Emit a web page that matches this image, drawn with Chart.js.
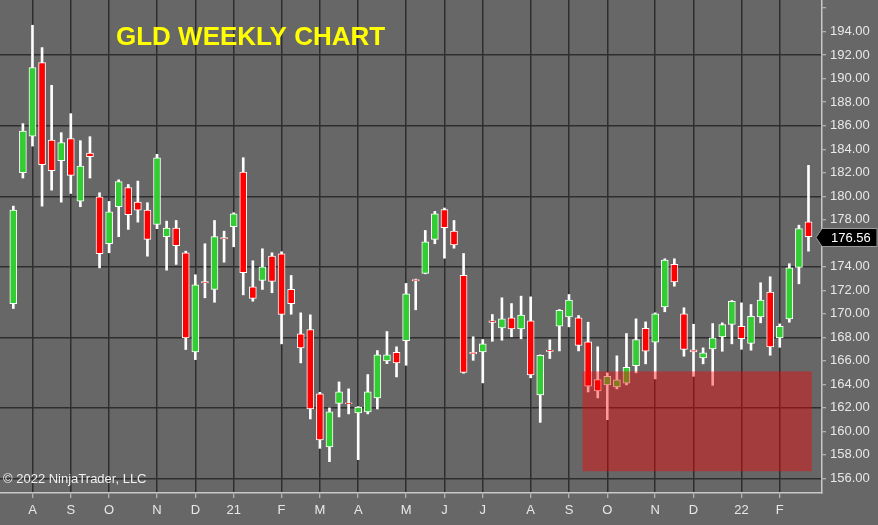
<!doctype html>
<html>
<head>
<meta charset="utf-8">
<title>GLD Weekly Chart</title>
<script src="https://cdn.jsdelivr.net/npm/chart.js@4.4.1/dist/chart.umd.min.js"></script>
<style>
  body { margin: 0; background: #676767; }
  #wrap { width: 878px; height: 525px; }
</style>
</head>
<body>
<div id="wrap"><canvas id="gld" width="878" height="525"></canvas></div>
<script>
// weekly bars, late Jul 2020 -> Feb 2022
const opens  = [170.87,182.0,185.12,191.38,184.78,183.03,184.9,179.59,183.68,179.96,
                175.96,179.11,180.73,179.5,178.82,177.6,176.56,177.29,175.19,166.76,
                172.74,172.07,176.48,177.41,182.06,172.3,172.83,174.9,175.11,172.09,
                168.29,168.66,163.18,158.67,162.38,162.43,161.56,161.65,162.84,165.99,
                166.73,167.72,172.92,173.43,176.33,178.86,177.03,173.28,166.72,166.76,
                169.39,168.8,169.66,168.72,169.4,163.1,166.92,168.94,169.74,169.66,
                167.61,164.4,163.95,163.78,164.09,165.59,168.77,167.58,170.59,174.2,
                170.0,166.93,166.25,167.02,168.04,169.09,168.94,167.47,169.74,171.84,
                167.95,169.57,173.94,177.83];
const highs  = [179.16,186.18,194.55,192.65,189.44,185.41,187.03,184.73,185.07,180.3,
                179.56,181.4,181.0,181.29,179.45,183.57,177.88,177.94,175.33,173.32,
                175.96,177.94,177.03,178.6,183.28,174.51,175.53,175.19,175.28,173.26,
                170.08,169.91,163.32,161.99,164.2,163.61,162.1,164.83,166.87,168.49,
                167.19,172.58,172.95,177.09,178.71,179.0,177.94,175.13,168.04,167.81,
                169.94,171.36,170.87,171.5,171.44,166.5,167.78,170.36,171.64,169.85,
                169.28,167.19,164.97,166.42,168.32,169.57,169.31,170.08,174.68,174.68,
                170.51,169.11,167.1,169.17,169.23,171.13,170.93,170.79,172.64,173.15,
                169.14,174.26,177.54,182.63];
const lows   = [170.45,181.55,184.27,179.16,180.52,179.5,180.24,179.11,181.55,173.91,
                175.19,176.56,177.18,177.8,174.9,177.24,173.71,174.2,166.96,166.1,
                171.36,170.98,174.39,175.7,171.61,171.07,172.07,171.79,167.44,169.96,
                165.82,161.05,158.55,157.42,161.22,161.48,157.59,161.48,161.9,165.76,
                164.63,165.62,170.34,173.4,175.96,174.73,175.58,164.94,166.04,164.12,
                167.66,167.75,168.04,167.87,164.55,160.76,166.19,166.84,168.89,166.84,
                163.35,162.84,160.99,163.61,163.95,164.97,165.74,164.46,170.17,172.35,
                166.39,164.68,165.74,163.91,166.81,167.44,166.98,166.9,169.23,166.47,
                167.15,169.28,172.55,175.33];
const closes = [178.82,185.55,190.95,182.69,182.18,184.56,181.78,182.57,183.37,175.11,
                178.68,181.24,178.43,178.82,176.33,183.28,177.29,175.79,167.95,172.47,
                172.62,176.56,176.38,178.51,173.49,171.3,174.0,172.75,169.94,170.87,
                167.1,161.9,159.26,161.65,163.35,162.33,162.07,163.35,166.5,166.5,
                165.82,171.7,172.8,176.13,178.51,177.32,175.87,165.02,166.58,167.44,
                169.27,169.57,168.72,169.88,164.8,166.47,166.8,170.3,171.16,167.3,
                163.83,163.44,164.68,164.37,165.45,167.81,166.81,170.0,174.56,172.72,
                166.96,166.76,166.67,167.95,169.09,171.07,167.89,169.79,171.16,167.19,
                168.94,173.91,177.24,176.56];

// month ticks (bar index where the month starts)
const monthIdx    = [2, 6, 10, 15, 19, 23, 28, 32, 36, 41, 45, 49, 54, 58, 62, 67, 71, 76, 80];
const monthLabels = ['A','S','O','N','D','21','F','M','A','M','J','J','A','S','O','N','D','22','F'];

// support zone box (bar index range, price range)
const zoneX = [59.4, 83.35];
const zoneY = [156.6, 165.1];

const idx = opens.map((_, i) => i);
const bodyColors = idx.map(i => closes[i] >= opens[i] ? '#32cd32' : '#ff0000');

const extras = {
  id: 'extras',
  beforeDraw(chart) {
    const c = chart.ctx;
    c.save();
    c.fillStyle = '#676767';
    c.fillRect(0, 0, chart.width, chart.height);
    c.restore();
  },
  afterDatasetsDraw(chart) {
    const c = chart.ctx, xs = chart.scales.x, ys = chart.scales.y;
    const x1 = xs.getPixelForValue(zoneX[0]), x2 = xs.getPixelForValue(zoneX[1]);
    const y1 = ys.getPixelForValue(zoneY[1]), y2 = ys.getPixelForValue(zoneY[0]);
    c.save();
    c.fillStyle = 'rgba(255,0,0,0.4)';
    c.fillRect(x1, y1, x2 - x1, y2 - y1);
    // title + copyright
    c.fillStyle = '#ffff00';
    c.font = 'bold 26px "Liberation Sans", Arial, sans-serif';
    c.textBaseline = 'alphabetic';
    c.fillText('GLD WEEKLY CHART', 116, 45);
    c.fillStyle = '#f0f0f0';
    c.font = '13px "Liberation Sans", Arial, sans-serif';
    c.fillText('\u00a9 2022 NinjaTrader, LLC', 3, 483);
    c.restore();
  },
  afterDraw(chart) {
    const c = chart.ctx, ys = chart.scales.y, r = chart.chartArea.right;
    const last = closes[closes.length - 1];
    const y = Math.round(ys.getPixelForValue(last)) + 0.5;
    c.save();
    c.beginPath();
    c.moveTo(r - 6, y);
    c.lineTo(r, y - 9);
    c.lineTo(chart.width - 1, y - 9);
    c.lineTo(chart.width - 1, y + 9);
    c.lineTo(r, y + 9);
    c.closePath();
    c.fillStyle = '#000';
    c.fill();
    c.strokeStyle = '#9a9a9a';
    c.lineWidth = 1;
    c.stroke();
    c.fillStyle = '#fff';
    c.font = '13px "Liberation Sans", Arial, sans-serif';
    c.textBaseline = 'middle';
    c.fillText(last.toFixed(2), r + 9, y + 1);
    c.restore();
  }
};

new Chart(document.getElementById('gld'), {
  type: 'bar',
  data: {
    datasets: [
      {
        label: 'wick',
        data: idx.map(i => ({ x: i, y: [lows[i], highs[i]] })),
        backgroundColor: '#ffffff',
        borderWidth: 0,
        barThickness: 2,
        grouped: false,
        order: 2
      },
      {
        label: 'body',
        data: idx.map(i => ({ x: i, y: [opens[i], closes[i]] })),
        backgroundColor: bodyColors,
        borderColor: '#ffffff',
        borderWidth: 1,
        borderSkipped: false,
        barThickness: 7,
        grouped: false,
        order: 1
      }
    ]
  },
  options: {
    responsive: false,
    animation: false,
    events: [],
    layout: { padding: 0, autoPadding: false },
    plugins: { legend: { display: false }, tooltip: { enabled: false }, title: { display: false } },
    scales: {
      x: {
        type: 'linear',
        min: -1.39,
        max: 84.41,
        offset: false,
        afterBuildTicks: s => { s.ticks = monthIdx.map(v => ({ value: v })); },
        afterFit: s => { s.height = 32; s.paddingLeft = 0; s.paddingRight = 0; },
        ticks: {
          autoSkip: false,
          maxRotation: 0,
          padding: 5,
          color: '#e8e8e8',
          font: { family: '"Liberation Sans", Arial, sans-serif', size: 13 },
          callback: (v, i) => monthLabels[i]
        },
        grid: {
          offset: false,
          color: '#2e2e2e',
          lineWidth: 1.5,
          tickLength: 5,
          tickColor: '#c8c8c8',
          tickWidth: 1
        },
        border: { color: '#c8c8c8', width: 1.5 }
      },
      y: {
        type: 'linear',
        position: 'right',
        min: 154.75,
        max: 196.7,
        afterFit: s => { s.width = 56; s.paddingTop = 0; s.paddingBottom = 0; },
        ticks: {
          stepSize: 2,
          includeBounds: false,
          autoSkip: false,
          padding: 4,
          color: '#e8e8e8',
          font: { family: '"Liberation Sans", Arial, sans-serif', size: 13 },
          callback: v => (v >= 196 ? '' : v.toFixed(2))
        },
        grid: {
          color: c => (Math.round(c.tick.value) % 6 === 0 ? '#2e2e2e' : 'rgba(0,0,0,0)'),
          lineWidth: 1.5,
          tickLength: 4,
          tickColor: '#c8c8c8',
          tickWidth: 1
        },
        border: { color: '#c8c8c8', width: 1.5 }
      }
    }
  },
  plugins: [extras]
});
</script>
</body>
</html>
